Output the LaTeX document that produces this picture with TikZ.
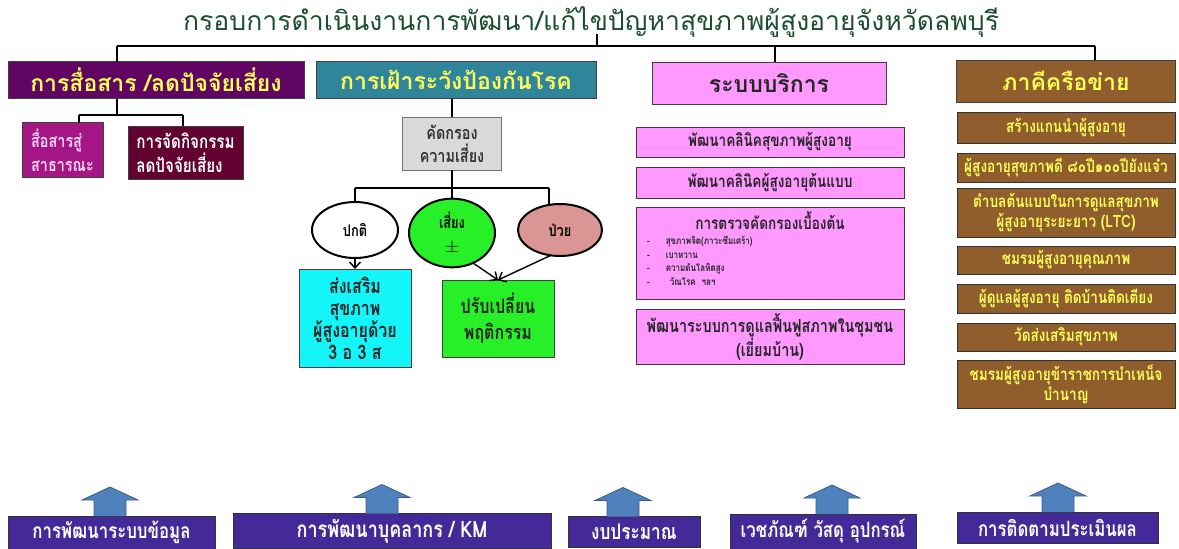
\documentclass[tikz,border=0pt]{standalone}
\usepackage{fontspec}
\setmainfont[Script=Thai]{Loma}
\newfontfamily\thaicond[Script=Thai,FakeStretch=0.8]{Loma}
\usetikzlibrary{positioning, shapes.geometric, arrows.meta}

\definecolor{titlecol}{RGB}{28,78,48}
\definecolor{commfill}{RGB}{96,6,98}
\definecolor{survfill}{RGB}{49,133,155}
\definecolor{servfill}{RGB}{255,153,255}
\definecolor{partfill}{RGB}{143,94,44}
\definecolor{pubfill}{RGB}{163,22,132}
\definecolor{pubtext}{RGB}{255,215,245}
\definecolor{actfill}{RGB}{98,0,50}
\definecolor{screenfill}{RGB}{217,217,217}
\definecolor{riskfill}{RGB}{40,240,40}
\definecolor{sickfill}{RGB}{218,150,148}
\definecolor{promotefill}{RGB}{20,245,250}
\definecolor{keyfill}{RGB}{68,42,152}
\definecolor{blkfill}{RGB}{79,129,189}
\definecolor{blkdraw}{RGB}{56,93,138}
\definecolor{yell}{RGB}{255,255,90}

\tikzset{
    >={Straight Barb[length=6pt,width=11pt]},
    link/.style={line width=1.6pt, black},
    arr/.style={->, line width=1.4pt, black},
    title/.style={text=titlecol, font=\fontsize{26.6}{30}\selectfont, inner sep=0pt},
    head/.style={draw=black!75, line width=0.8pt, outer sep=0pt, text=yell,
        font=\bfseries\fontsize{23}{26}\selectfont},
    sub/.style={draw=black!75, line width=0.8pt, outer sep=0pt, align=center,
        font=\thaicond\bfseries\fontsize{19}{24}\selectfont},
    oval/.style={ellipse, draw=black, line width=2pt, outer sep=0pt, align=center,
        font=\thaicond\bfseries\fontsize{16}{18}\selectfont},
    svc/.style={draw=black!70!servfill, line width=1pt, fill=servfill, outer sep=0pt,
        minimum width=268, align=center, text=black!85,
        font=\thaicond\bfseries\fontsize{17}{20}\selectfont},
    item/.style={inner sep=0pt, text=black!85,
        font=\thaicond\bfseries\fontsize{10}{13.5}\selectfont},
    net/.style={draw=black!80, line width=1pt, fill=partfill, outer sep=0pt,
        minimum width=218, align=center, text=yell,
        font=\thaicond\bfseries\fontsize{17}{20}\selectfont},
    keybox/.style={draw=black!80, line width=0.8pt, fill=keyfill, outer sep=0pt,
        inner sep=1pt, text=white, font=\thaicond\bfseries\fontsize{21}{24}\selectfont},
    blkarrow/.style={fill=blkfill, draw=blkdraw, line width=0.8pt},
    upblock/.pic={\draw[blkarrow] (-16,0) -- (-16,-16) -- (-28,-16) -- (0,-29)
        -- (28,-16) -- (16,-16) -- (16,0);}
}

\begin{document}
\begin{tikzpicture}[x=1pt, y=-1pt]
\useasboundingbox (0,0) rectangle (1179,549);

% title and the top bracket
\node[title] (title) at (591,22) {กรอบการดำเนินงานการพัฒนา/แก้ไขปัญหาสุขภาพผู้สูงอายุจังหวัดลพบุรี};

\node[head, fill=commfill, minimum width=296, minimum height=37] (comm) at (156,80) {การสื่อสาร /ลดปัจจัยเสี่ยง};
\node[head, fill=survfill, minimum width=280, minimum height=37] (surv) at (456,80) {การเฝ้าระวังป้องกันโรค};
\node[head, fill=servfill, text=black!85, minimum width=234, minimum height=42] (serv) at (769,83) {ระบบบริการ};
\node[head, fill=partfill, minimum width=219, minimum height=42] (part) at (1066,81) {ภาคีครือข่าย};

\coordinate (top1) at (117,46);
\coordinate (top2) at (597,46);
\coordinate (top3) at (775,46);
\coordinate (top4) at (1095,46);
\draw[link] (top1) -- (top4);
\draw[link] (top1) -- (top1 |- comm.north);
\draw[link] (top2) -- (597,34);
\draw[link] (top3) -- (top3 |- serv.north);
\draw[link] (top4) -- (top4 |- part.north);

% communication
\node[sub, fill=pubfill, text=pubtext, align=left, font=\thaicond\bfseries\fontsize{18}{24}\selectfont, minimum width=81, minimum height=55] (pub) at (62.5,150) {สื่อสารสู่\\สาธารณะ};
\node[sub, fill=actfill, text=white, align=left, minimum width=115, minimum height=53] (act) at (185.5,152.5) {การจัดกิจกรรม\\ลดปัจจัยเสี่ยง};
\coordinate (cj) at (117,115);
\coordinate (cl) at (79,115);
\coordinate (cr) at (183,115);
\draw[link] (cj |- comm.south) -- (cj);
\draw[link] (cl) -- (cr);
\draw[link] (cl) -- (cl |- pub.north);
\draw[link, line width=2.6pt] (cr) -- (cr |- act.north);

% surveillance
\node[sub, fill=screenfill, draw=black!55, text=black!80, font=\thaicond\bfseries\fontsize{18}{23}\selectfont, minimum width=99, minimum height=53] (screen) at (452,143.5) {คัดกรอง\\ความเสี่ยง};
\draw[link] (screen.north |- surv.south) -- (screen.north);
\coordinate (sj) at (452,188);
\coordinate (sl) at (355,188);
\coordinate (sr) at (549,188);
\draw[link] (screen.south) -- (sj);
\draw[link] (sl) -- (sr);

\node[oval, fill=white, minimum width=86, minimum height=56] (normal) at (355,230) {ปกติ};
\node[oval, fill=riskfill, minimum width=86, minimum height=62] (risk) at (452,233) {เสี่ยง\\[6pt]$\pm$};
\node[oval, fill=sickfill, minimum width=84, minimum height=52] (sick) at (560,230) {ป่วย};
\draw[link] (sl) -- (normal);
\draw[link] (sj) -- (risk);
\draw[link] (sr) -- (sr |- sick.north);

\node[sub, fill=promotefill, text=black!85, font=\thaicond\bfseries\fontsize{20}{22}\selectfont, minimum width=112, minimum height=98] (promote) at (355,318) {ส่งเสริม\\สุขภาพ\\ผู้สูงอายุด้วย\\3 อ 3 ส};
\node[sub, fill=riskfill, text=black!85, font=\thaicond\bfseries\fontsize{20}{26}\selectfont, minimum width=112, minimum height=77] (change) at (498,318.5) {ปรับเปลี่ยน\\พฤติกรรม};
\draw[arr] (normal) -- (promote);
\draw[arr] (risk.305) -- (change.north);
\draw[arr] (sick.250) -- (change.north);

% services
\node[svc, minimum height=30] (clin1) at (770,142) {พัฒนาคลินิคสุขภาพผู้สูงอายุ};
\node[svc, minimum height=31, below=10pt of clin1] (clin2) {พัฒนาคลินิคผู้สูงอายุต้นแบบ};
\node[svc, minimum height=92, below=9pt of clin2] (scr) {};
\node[svc, draw=none, fill=none, inner sep=0pt, below=4pt of scr.north] (scrt) {การตรวจคัดกรองเบื้องต้น};
\node[item, anchor=north west] (scrl) at (647,235) {%
\begin{tabular}{@{}l@{\hspace{16pt}}l@{}}
- & สุขภาพจิต(ภาวะซึมเศร้า)\\
- & เบาหวาน\\
- & ความดันโลหิตสูง\\
- & \hspace{4pt}วัณโรค\hspace{6pt}ฯลฯ
\end{tabular}};
\node[svc, minimum height=55, below=10pt of scr, font=\thaicond\bfseries\fontsize{18}{24}\selectfont] (rehab) {พัฒนาระบบการดูแลฟื้นฟูสภาพในชุมชน\\(เยี่ยมบ้าน)};

% network
\node[net, minimum height=31] (net1) at (1066,127.5) {สร้างแกนนำผู้สูงอายุ};
\node[net, minimum height=29, below=10pt of net1] (net2) {ผู้สูงอายุสุขภาพดี ๘๐ปี๑๐๐ปียังแจ๋ว};
\node[net, minimum height=49, below=6pt of net2] (net3) {ตำบลต้นแบบในการดูแลสุขภาพ\\ผู้สูงอายุระยะยาว (LTC)};
\node[net, minimum height=28, below=9pt of net3] (net4) {ชมรมผู้สูงอายุคุณภาพ};
\node[net, minimum height=29, below=10pt of net4] (net5) {ผู้ดูแลผู้สูงอายุ ติดบ้านติดเตียง};
\node[net, minimum height=28, below=10pt of net5] (net6) {วัดส่งเสริมสุขภาพ};
\node[net, minimum height=48, below=9pt of net6] (net7) {ชมรมผู้สูงอายุข้าราชการบำเหน็จ\\บำนาญ};

% support row
\node[keybox, minimum width=207, minimum height=33] (k1) at (111.5,532.5) {การพัฒนาระบบข้อมูล};
\node[keybox, minimum width=318, minimum height=35, font=\thaicond\bfseries\fontsize{22.5}{25}\selectfont] (k2) at (392,531) {การพัฒนาบุคลากร / KM};
\node[keybox, minimum width=132, minimum height=31, font=\thaicond\bfseries\fontsize{21.5}{24}\selectfont] (k3) at (634,532) {งบประมาณ};
\node[keybox, minimum width=186, minimum height=35] (k4) at (823,531.5) {เวชภัณฑ์ วัสดุ อุปกรณ์};
\node[keybox, minimum width=201, minimum height=31] (k5) at (1057.5,527.5) {การติดตามประเมินผล};
\pic at (110,0 |- k1.north) {upblock};
\pic at (382,0 |- k2.north) {upblock};
\pic at (623,0 |- k3.north) {upblock};
\pic at (832,0 |- k4.north) {upblock};
\pic at (1058,0 |- k5.north) {upblock};
\end{tikzpicture}
\end{document}
